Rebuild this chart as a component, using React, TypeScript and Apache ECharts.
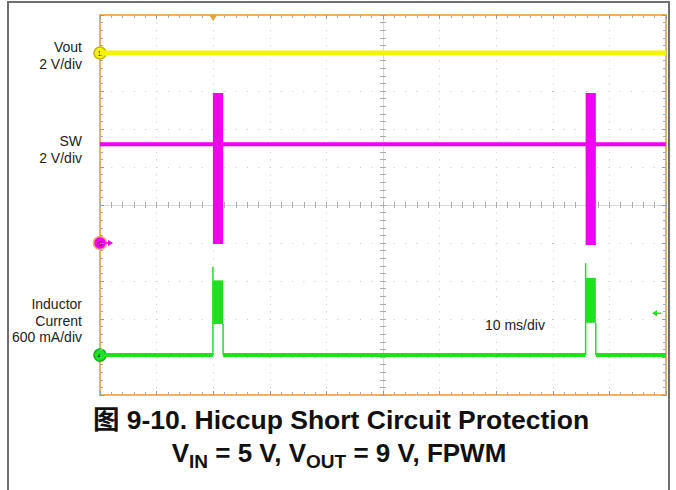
import React, { useEffect, useRef } from "react";
import * as echarts from "echarts";

// ---- time axis (ms) ----
const TIME_MIN = 0;
const TIME_MAX = 100;
const TIME_PER_DIV = 10;
const VERT_DIVS = 10;
const TRIGGER_TIME = 20;

// ---- channel settings ----
const voutScale = 2; // V/div
const swScale = 2; // V/div
const ilScale = 0.6; // A/div
const voutGround = 9; // divisions from bottom
const swGround = 4;
const ilGround = 1.05;
const ilTriggerLevel = 0.66; // A

// ---- Vout (V) ----
const voutTrace: [number, number][] = [
  [0, 0],
  [100, 0],
];

// ---- SW (V) ----
const swTrace: [number, number][] = [
  [0, 5.2],
  [100, 5.2],
];
// [tStart, tEnd, low, high]
const swBursts: [number, number, number, number][] = [
  [19.95, 21.75, -0.05, 7.9],
  [85.8, 87.6, -0.1, 7.9],
];

// ---- Inductor current (A) ----
const ilSegments: [number, number][][] = [
  [
    [0, 0],
    [19.95, 0],
  ],
  [
    [21.75, 0],
    [85.8, 0],
  ],
  [
    [87.6, 0],
    [100, 0],
  ],
];
const ilSpikes: [number, number][] = [
  [19.95, 1.39],
  [85.8, 1.45],
];
const ilBursts: [number, number, number, number][] = [
  [19.95, 21.75, 0.49, 1.18],
  [85.8, 87.6, 0.51, 1.22],
];
const ilTrailing: [number, number][] = [
  [21.75, 0.49],
  [87.6, 0.51],
];

// ---- texts ----
const leftLabels = [
  { lines: ["Vout", "2 V/div"], y: 47 },
  { lines: ["SW", "2 V/div"], y: 141 },
  { lines: ["Inductor", "Current", "600 mA/div"], y: 304 },
];
const timebaseLabel = "10 ms/div";
const titleLine1 = "图 9-10. Hiccup Short Circuit Protection";
const titleLine2: { t: string; sub?: boolean }[] = [
  { t: "V" },
  { t: "IN", sub: true },
  { t: " = 5 V, V" },
  { t: "OUT", sub: true },
  { t: " = 9 V, FPWM" },
];

const YELLOW = "#f4f400";
const MAGENTA = "#f200f2";
const GREEN = "#20e020";
const ORANGE = "#f0b060";
const FONT = "'Liberation Sans', Arial, 'Noto Sans CJK SC', sans-serif";

const toDiv = (v: number, scale: number, ground: number) => ground + v / scale;

function App() {
  const ref = useRef<HTMLDivElement>(null);
  useEffect(() => {
    if (!ref.current) return;
    const chart = echarts.init(ref.current, undefined, { renderer: "svg" });

    const grid = {
      left: 100,
      top: 15,
      width: 566,
      height: 380,
      show: true,
      borderColor: ORANGE,
      borderWidth: 2,
      backgroundColor: "transparent",
    };
    const baseX = {
      type: "value" as const,
      min: TIME_MIN,
      max: TIME_MAX,
      interval: TIME_PER_DIV,
      axisLabel: { show: false },
    };
    const baseY = {
      type: "value" as const,
      min: 0,
      max: VERT_DIVS,
      interval: 1,
      axisLabel: { show: false },
    };
    const borderTick = {
      axisLine: { show: false, onZero: false },
      axisTick: { show: true, inside: true, length: 4, lineStyle: { color: "#999", width: 1 } },
      minorTick: { show: true, splitNumber: 5, length: 3, lineStyle: { color: "#aaa", width: 1 } },
    };
    const centerIn = {
      axisLine: { show: true, onZero: false, lineStyle: { color: "#d8d8d8", width: 1 } },
      axisTick: { show: true, inside: true, length: 3, lineStyle: { color: "#aaa", width: 1 } },
      minorTick: { show: true, splitNumber: 5, length: 3, lineStyle: { color: "#aaa", width: 1 } },
      splitLine: { show: false },
    };
    const centerOut = {
      ...centerIn,
      axisTick: { ...centerIn.axisTick, inside: false },
      minorTick: { ...centerIn.minorTick },
    };

    const xAxis = [
      {
        ...baseX,
        position: "bottom",
        ...borderTick,
        splitLine: { show: true, lineStyle: { color: "#c8c8c8", width: 1, type: [1, 6.6] } },
      },
      { ...baseX, position: "top", ...borderTick, splitLine: { show: false } },
      { ...baseX, position: "bottom", offset: -190, ...centerIn },
      { ...baseX, position: "bottom", offset: -190, ...centerOut },
    ];
    const yAxis = [
      {
        ...baseY,
        position: "left",
        ...borderTick,
        splitLine: { show: true, lineStyle: { color: "#c8c8c8", width: 1, type: [1, 10.3] } },
      },
      { ...baseY, position: "right", ...borderTick, splitLine: { show: false } },
      { ...baseY, position: "left", offset: -283, ...centerIn },
      { ...baseY, position: "left", offset: -283, ...centerOut },
    ];

    const lineSeries = (data: [number, number][], color: string, width: number, z = 3) => ({
      type: "line",
      xAxisIndex: 0,
      yAxisIndex: 0,
      data,
      showSymbol: false,
      symbol: "none",
      lineStyle: { color, width },
      z,
      silent: true,
    });
    const blockSeries = (data: number[][], color: string) => ({
      type: "custom",
      xAxisIndex: 0,
      yAxisIndex: 0,
      data,
      encode: { x: [0, 1], y: [2, 3] },
      z: 4,
      silent: true,
      renderItem: (_p: any, api: any) => {
        const a = api.coord([api.value(0), api.value(3)]);
        const b = api.coord([api.value(1), api.value(2)]);
        return {
          type: "rect",
          shape: { x: a[0], y: a[1], width: b[0] - a[0], height: b[1] - a[1] },
          style: { fill: color },
        };
      },
    });

    const series: any[] = [];
    series.push(lineSeries(voutTrace.map(([t, v]) => [t, toDiv(v, voutScale, voutGround)]), YELLOW, 5));
    series.push(lineSeries(swTrace.map(([t, v]) => [t, toDiv(v, swScale, swGround)]), MAGENTA, 4));
    series.push(
      blockSeries(
        swBursts.map(([a, b, lo, hi]) => [a, b, toDiv(lo, swScale, swGround), toDiv(hi, swScale, swGround)]),
        MAGENTA
      )
    );
    ilSegments.forEach((seg) =>
      series.push(lineSeries(seg.map(([t, v]) => [t, toDiv(v, ilScale, ilGround)]), GREEN, 4))
    );
    ilSpikes.forEach(([t, pk]) =>
      series.push(
        lineSeries(
          [
            [t, toDiv(0, ilScale, ilGround)],
            [t, toDiv(pk, ilScale, ilGround)],
          ],
          GREEN,
          1.5
        )
      )
    );
    ilTrailing.forEach(([t, v]) =>
      series.push(
        lineSeries(
          [
            [t, toDiv(0, ilScale, ilGround)],
            [t, toDiv(v, ilScale, ilGround)],
          ],
          GREEN,
          1.5
        )
      )
    );
    series.push(
      blockSeries(
        ilBursts.map(([a, b, lo, hi]) => [a, b, toDiv(lo, ilScale, ilGround), toDiv(hi, ilScale, ilGround)]),
        GREEN
      )
    );

    chart.setOption({
      animation: false,
      backgroundColor: "#ffffff",
      grid,
      xAxis,
      yAxis,
      series,
    });

    // ---- decorations positioned through the chart's scales ----
    const px = (t: number, d: number) => chart.convertToPixel({ gridIndex: 0 }, [t, d]) as number[];
    const p1 = px(TIME_MIN, voutGround);
    const p3 = px(TIME_MIN, swGround);
    const p4 = px(TIME_MIN, ilGround);
    const pTrig = px(TRIGGER_TIME, VERT_DIVS);
    const pLvl = px(TIME_MAX, toDiv(ilTriggerLevel, ilScale, ilGround));

    const canvas = document.createElement("canvas");
    const ctx = canvas.getContext("2d")!;
    const measure = (s: string, size: number) => {
      ctx.font = `bold ${size}px ${FONT}`;
      return ctx.measureText(s).width;
    };
    const MAIN = 26;
    const SUB = 19;
    const widths = titleLine2.map((p) => measure(p.t, p.sub ? SUB : MAIN));
    const total = widths.reduce((a, b) => a + b, 0);
    let cx = 339 - total / 2;
    const line2Els: any[] = titleLine2.map((p, i) => {
      const el = {
        type: "text",
        x: cx,
        y: p.sub ? 461 : 453,
        style: {
          text: p.t,
          fill: "#111",
          font: `bold ${p.sub ? SUB : MAIN}px ${FONT}`,
          textAlign: "left",
          textVerticalAlign: "middle",
        },
      };
      cx += widths[i];
      return el;
    });

    const labelEls: any[] = [];
    leftLabels.forEach((g) =>
      g.lines.forEach((s, i) =>
        labelEls.push({
          type: "text",
          x: 82,
          y: g.y + i * 16.5,
          style: { text: s, fill: "#222", font: `14px ${FONT}`, textAlign: "right", textVerticalAlign: "middle" },
        })
      )
    );

    const marker = (p: number[], fill: string, label: string, stroke: string, r: number) => ({
      type: "group",
      x: p[0],
      y: p[1],
      z: 20,
      children: [
        { type: "circle", shape: { cx: 0, cy: 0, r }, style: { fill, stroke, lineWidth: 1.5 } },
        {
          type: "text",
          x: 0,
          y: 0,
          style: { text: label, fill: "#333", font: `bold 8px ${FONT}`, textAlign: "center", textVerticalAlign: "middle" },
        },
      ],
    });

    chart.setOption({
      graphic: [
        {
          type: "rect",
          shape: { x: 8, y: 2, width: 661, height: 560 },
          style: { fill: "none", stroke: "#6e6e6e", lineWidth: 2 },
          z: 1,
        },
        ...labelEls,
        {
          type: "text",
          x: 485,
          y: 325,
          style: { text: timebaseLabel, fill: "#222", font: `14px ${FONT}`, textAlign: "left", textVerticalAlign: "middle" },
        },
        {
          type: "text",
          x: 341,
          y: 420,
          style: {
            text: titleLine1,
            fill: "#111",
            font: `bold 26.5px ${FONT}`,
            textAlign: "center",
            textVerticalAlign: "middle",
          },
        },
        ...line2Els,
        marker(p1, YELLOW, "1", "#c8b400", 6),
        marker(p3, MAGENTA, "3", ORANGE, 6.5),
        {
          type: "polygon",
          z: 20,
          shape: {
            points: [
              [p3[0] + 8, p3[1] - 3],
              [p3[0] + 13, p3[1]],
              [p3[0] + 8, p3[1] + 3],
            ],
          },
          style: { fill: MAGENTA },
        },
        {
          type: "line",
          z: 20,
          shape: { x1: p3[0] + 5, y1: p3[1], x2: p3[0] + 10, y2: p3[1] },
          style: { stroke: MAGENTA, lineWidth: 1.5 },
        },
        marker(p4, GREEN, "4", "#18b018", 6),
        {
          type: "polygon",
          z: 20,
          shape: {
            points: [
              [pTrig[0] - 4, pTrig[1]],
              [pTrig[0] + 4, pTrig[1]],
              [pTrig[0], pTrig[1] + 6],
            ],
          },
          style: { fill: "#e8a040" },
        },
        {
          type: "polygon",
          z: 20,
          shape: {
            points: [
              [pLvl[0] - 14, pLvl[1]],
              [pLvl[0] - 9, pLvl[1] - 3],
              [pLvl[0] - 9, pLvl[1] + 3],
            ],
          },
          style: { fill: GREEN },
        },
        {
          type: "line",
          z: 20,
          shape: { x1: pLvl[0] - 11, y1: pLvl[1], x2: pLvl[0] - 5, y2: pLvl[1] },
          style: { stroke: GREEN, lineWidth: 1.5 },
        },
      ],
    });

    return () => chart.dispose();
  }, []);

  return (
    <div
      ref={ref}
      style={{ position: "absolute", left: 0, top: 0, width: 676, height: 490, background: "#fff" }}
    />
  );
}

export default App;
